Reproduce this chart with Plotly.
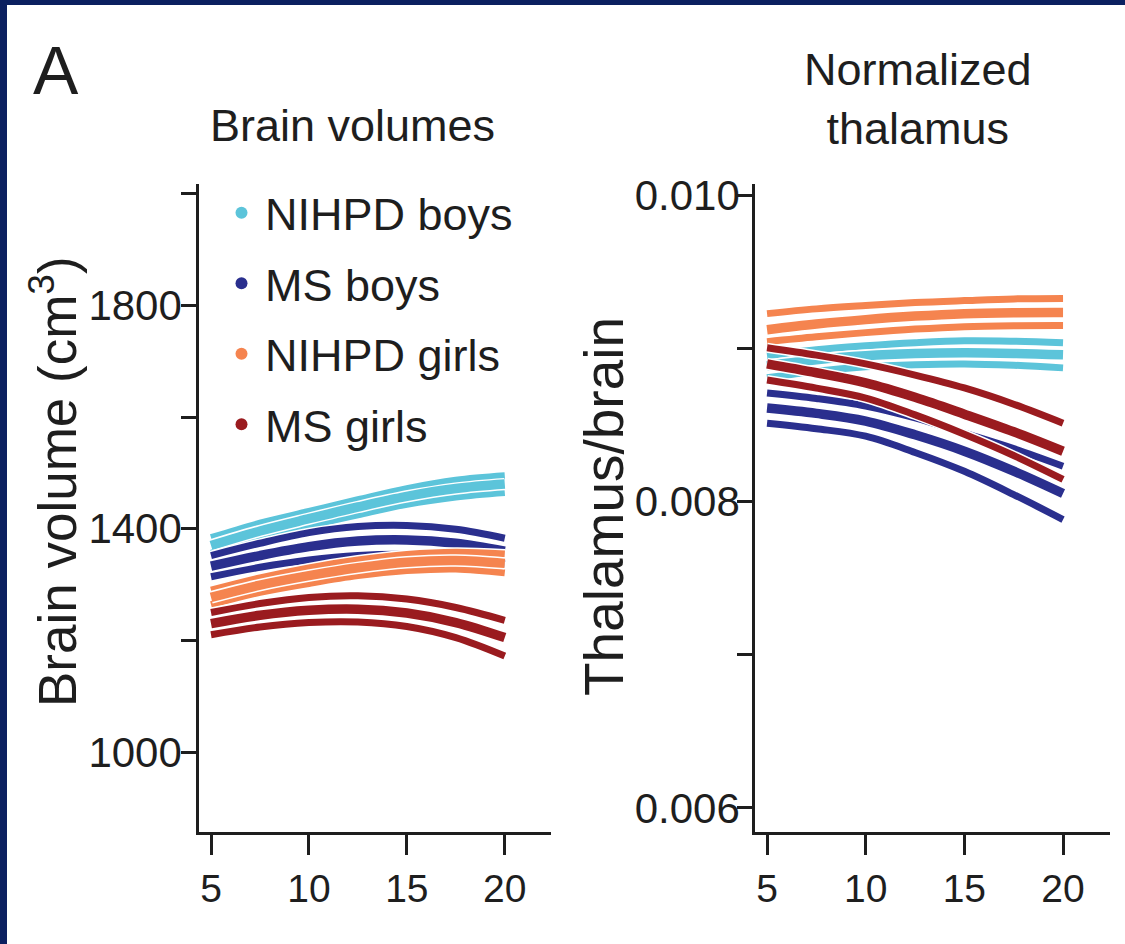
import plotly.graph_objects as go

# ---------------- data ----------------
age = [5, 7.5, 10, 12.5, 15, 17.5, 20]

groups = ["NIHPD boys", "MS boys", "NIHPD girls", "MS girls"]
colors = ["#5cc4da", "#2a2f8e", "#f5844f", "#9a1b1f"]

# Brain volume (cm3): upper CI, mean, lower CI
vol_nihpd_boys_hi = [1384, 1410, 1431, 1452, 1472, 1487, 1495]
vol_nihpd_boys_mu = [1370, 1396, 1418, 1439, 1458, 1472, 1480]
vol_nihpd_boys_lo = [1356, 1382, 1405, 1425, 1444, 1457, 1465]

vol_ms_boys_hi = [1352, 1374, 1393, 1404, 1406, 1399, 1383]
vol_ms_boys_mu = [1333, 1352, 1368, 1378, 1380, 1374, 1360]
vol_ms_boys_lo = [1314, 1331, 1344, 1352, 1354, 1349, 1337]

vol_nihpd_girls_hi = [1290, 1312, 1330, 1344, 1354, 1358, 1355]
vol_nihpd_girls_mu = [1277, 1299, 1316, 1330, 1340, 1343, 1338]
vol_nihpd_girls_lo = [1264, 1286, 1302, 1316, 1325, 1328, 1321]

vol_ms_girls_hi = [1250, 1266, 1277, 1280, 1274, 1259, 1236]
vol_ms_girls_mu = [1230, 1245, 1254, 1256, 1249, 1232, 1205]
vol_ms_girls_lo = [1210, 1224, 1232, 1233, 1225, 1205, 1172]

# Thalamus / brain ratio: upper CI, mean, lower CI
tha_nihpd_boys_hi = [0.008951, 0.008990, 0.009016, 0.009036, 0.009049, 0.009046, 0.009036]
tha_nihpd_boys_mu = [0.008885, 0.008925, 0.008951, 0.008965, 0.008970, 0.008966, 0.008957]
tha_nihpd_boys_lo = [0.008807, 0.008850, 0.008879, 0.008893, 0.008898, 0.008889, 0.008872]

tha_ms_boys_hi = [0.008708, 0.008672, 0.008623, 0.008545, 0.008446, 0.008345, 0.008230]
tha_ms_boys_mu = [0.008610, 0.008575, 0.008525, 0.008435, 0.008328, 0.008198, 0.008052]
tha_ms_boys_lo = [0.008511, 0.008475, 0.008426, 0.008320, 0.008197, 0.008045, 0.007882]

tha_nihpd_girls_hi = [0.009226, 0.009257, 0.009279, 0.009298, 0.009311, 0.009322, 0.009325]
tha_nihpd_girls_mu = [0.009121, 0.009158, 0.009187, 0.009210, 0.009226, 0.009232, 0.009233]
tha_nihpd_girls_lo = [0.009043, 0.009075, 0.009102, 0.009125, 0.009141, 0.009147, 0.009148]

tha_ms_girls_hi = [0.009003, 0.008955, 0.008898, 0.008825, 0.008741, 0.008635, 0.008511]
tha_ms_girls_mu = [0.008898, 0.008840, 0.008774, 0.008680, 0.008570, 0.008455, 0.008328]
tha_ms_girls_lo = [0.008793, 0.008740, 0.008675, 0.008565, 0.008439, 0.008300, 0.008144]

vol_tickvals = [1000, 1400, 1800]
vol_minorvals = [1200, 1600, 2000]
tha_tickvals = [0.006, 0.008, 0.010]
tha_ticktext = ["0.006", "0.008", "0.010"]
tha_minorvals = [0.007, 0.009]
age_tickvals = [5, 10, 15, 20]

vol_sets = [
    (vol_nihpd_boys_hi, vol_nihpd_boys_lo, vol_nihpd_boys_mu),
    (vol_ms_boys_hi, vol_ms_boys_lo, vol_ms_boys_mu),
    (vol_nihpd_girls_hi, vol_nihpd_girls_lo, vol_nihpd_girls_mu),
    (vol_ms_girls_hi, vol_ms_girls_lo, vol_ms_girls_mu),
]
tha_sets = [
    (tha_nihpd_boys_hi, tha_nihpd_boys_lo, tha_nihpd_boys_mu),
    (tha_ms_boys_hi, tha_ms_boys_lo, tha_ms_boys_mu),
    (tha_nihpd_girls_hi, tha_nihpd_girls_lo, tha_nihpd_girls_mu),
    (tha_ms_girls_hi, tha_ms_girls_lo, tha_ms_girls_mu),
]

# ---------------- figure ----------------
W, H = 1125, 944
FONT = "Liberation Sans, Arial, sans-serif"
NAVY = "#0b2060"
INK = "#1e1e1e"

fig = go.Figure()

widths = [7, 7, 9.5]


def add_lines(sets, xa, ya):
    for color, trio in zip(colors, sets):
        for ys, w in zip(trio, widths):
            fig.add_trace(go.Scatter(
                x=age, y=ys, mode="lines", xaxis=xa, yaxis=ya,
                line=dict(color="white", width=w + 3, shape="spline"),
                showlegend=False, hoverinfo="skip"))
            fig.add_trace(go.Scatter(
                x=age, y=ys, mode="lines", xaxis=xa, yaxis=ya,
                line=dict(color=color, width=w, shape="spline"),
                showlegend=False, hoverinfo="skip"))


add_lines(vol_sets, "x", "y")
add_lines(tha_sets, "x2", "y2")

# legend entries
for g, c in zip(groups, colors):
    fig.add_trace(go.Scatter(
        x=[None], y=[None], mode="markers", name=g, legendgroup=g,
        marker=dict(color=c, size=16), xaxis="x", yaxis="y", showlegend=True))

ytop, ybot = 184, 832
ydom = [(H - ybot) / H, (H - ytop) / H]

line_common = dict(
    showgrid=False, zeroline=False, showline=True, linecolor=INK, linewidth=2.5,
    ticks="outside", tickcolor=INK, tickwidth=2.5, fixedrange=True, automargin=False,
)
xfont = dict(family=FONT, size=39, color=INK)
yfont = dict(family=FONT, size=42, color=INK)
yminor = dict(ticks="outside", ticklen=15, tickwidth=2.5, tickcolor=INK, showgrid=False)

fig.update_layout(
    width=W, height=H, autosize=False,
    margin=dict(l=0, r=0, t=0, b=0, pad=0, autoexpand=False),
    paper_bgcolor=NAVY, plot_bgcolor="white",
    font=dict(family=FONT, color=INK),
    showlegend=True,
    legend=dict(
        x=218 / W, xanchor="left", y=(H - 177) / H, yanchor="top",
        bgcolor="rgba(0,0,0,0)", borderwidth=0,
        font=dict(family=FONT, size=45, color=INK),
        tracegroupgap=9, itemsizing="constant", itemwidth=37,
    ),
    xaxis=dict(domain=[199 / W, 551 / W], range=[4.386, 22.36], anchor="y",
               tickvals=age_tickvals, ticklen=20, tickfont=xfont, **line_common),
    yaxis=dict(domain=ydom, range=[856.7, 2017.7], anchor="x",
               tickvals=vol_tickvals, ticklen=15, tickfont=yfont,
               ticklabelstandoff=-9,
               minor=dict(tickvals=vol_minorvals, **yminor), **line_common),
    xaxis2=dict(domain=[755 / W, 1110 / W], range=[4.39, 22.38], anchor="y2",
                tickvals=age_tickvals, ticklen=20, tickfont=xfont, **line_common),
    yaxis2=dict(domain=ydom, range=[0.005843, 0.010072], anchor="x2",
                tickvals=tha_tickvals, ticktext=tha_ticktext, ticklen=15, tickfont=yfont,
                ticklabelstandoff=-11,
                minor=dict(tickvals=tha_minorvals, **yminor), **line_common),
    shapes=[dict(type="rect", xref="paper", yref="paper",
                 x0=7 / W, x1=1.01, y0=-0.01, y1=(H - 5) / H,
                 fillcolor="white", line=dict(width=0), layer="below")],
)

ann = [
    dict(text="A", x=56 / W, y=(H - 70) / H, size=68),
    dict(text="Brain volumes", x=352 / W, y=(H - 126) / H, size=45),
    dict(text="Normalized<br>thalamus", x=918 / W, y=(H - 99) / H, size=45),
]
for a in ann:
    fig.add_annotation(text=a["text"], x=a["x"], y=a["y"], xref="paper", yref="paper",
                       xanchor="center", yanchor="middle", showarrow=False,
                       font=dict(family=FONT, size=a["size"], color=INK))

fig.add_annotation(text="Brain volume (cm<sup>3</sup>)", x=53 / W, y=(H - 482) / H,
                   xref="paper", yref="paper", xanchor="center", yanchor="middle",
                   textangle=-90, showarrow=False,
                   font=dict(family=FONT, size=53, color=INK))
fig.add_annotation(text="Thalamus/brain", x=604 / W, y=(H - 507) / H,
                   xref="paper", yref="paper", xanchor="center", yanchor="middle",
                   textangle=-90, showarrow=False,
                   font=dict(family=FONT, size=55, color=INK))

fig.write_html(
    "out.html",
    config={"displayModeBar": False, "responsive": False},
    post_script="document.body.style.margin='0';document.body.style.padding='0';",
)
